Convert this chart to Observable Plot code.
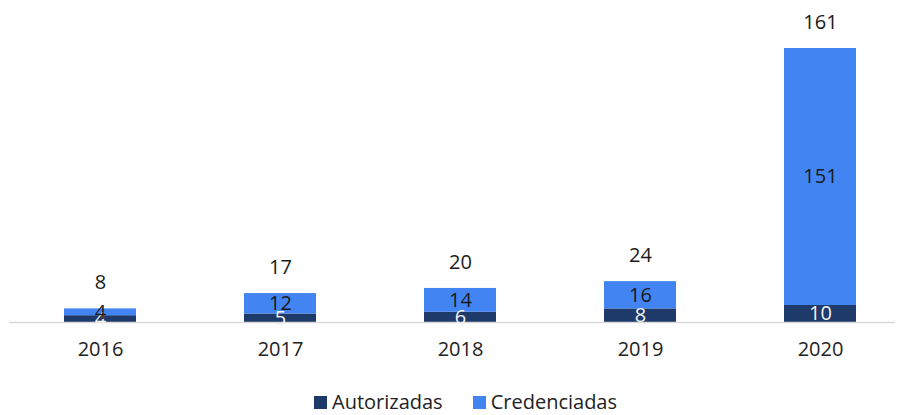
<!DOCTYPE html>
<html>
<head>
<meta charset="utf-8">
<script src="https://cdn.jsdelivr.net/npm/d3@7"></script>
<script src="https://cdn.jsdelivr.net/npm/@observablehq/plot@0.6"></script>
<style>
  body { margin: 0; background: #fff; font-family: "Open Sans", "Noto Sans", sans-serif; }
  #chart svg { display: block; }
  .legend { display: flex; justify-content: center; gap: 30px; font-size: 20px; color: #222; margin-left: 34px; margin-top: 6px; line-height: 22px; }
  .legend span { display: inline-flex; align-items: center; }
  .legend i { display: inline-block; width: 13px; height: 13px; margin-right: 5px; }
</style>
</head>
<body>
<div id="chart"></div>
<div class="legend" id="legend"></div>
<script>
const years = ["2016", "2017", "2018", "2019", "2020"];
const autorizadas = [4, 5, 6, 8, 10];
const credenciadas = [4, 12, 14, 16, 151];
const totals = [8, 17, 20, 24, 161];

const seriesNames = ["Autorizadas", "Credenciadas"];
const seriesColors = ["#1d3a6b", "#4384f3"];

const rows = [];
years.forEach((y, i) => {
  rows.push({year: y, serie: seriesNames[0], value: autorizadas[i]});
  rows.push({year: y, serie: seriesNames[1], value: credenciadas[i]});
});
const darkLabels = years.map((y, i) => ({year: y, v: autorizadas[i], mid: autorizadas[i] / 2}));
const blueLabels = years.map((y, i) => ({year: y, v: credenciadas[i], mid: autorizadas[i] + credenciadas[i] / 2}));
const totalLabels = years.map((y, i) => ({year: y, v: totals[i]}));

const font = "Open Sans, Noto Sans, sans-serif";

const chart = Plot.plot({
  width: 897,
  height: 385,
  marginTop: 48,
  marginBottom: 63,
  marginLeft: 9,
  marginRight: 2,
  style: {fontFamily: font, fontSize: "20px", color: "#222", background: "#fff"},
  x: {domain: years, range: [8.6, 911.6], paddingInner: 0.6, paddingOuter: 0.3, label: null, tickSize: 0, tickPadding: 19},
  y: {domain: [0, 161], axis: null},
  color: {domain: seriesNames, range: seriesColors},
  marks: [
    Plot.barY(rows, {x: "year", y: "value", fill: "serie", order: seriesNames}),
    Plot.ruleY([0], {stroke: "#d9d9d9", strokeWidth: 1.5}),
    Plot.text(darkLabels, {x: "year", y: "mid", text: d => String(d.v), fill: "#f2f2f2", fontSize: 20}),
    Plot.text(blueLabels, {x: "year", y: "mid", text: d => String(d.v), fill: "#1a1a1a", fontSize: 20}),
    Plot.text(totalLabels, {x: "year", y: "v", text: d => String(d.v), dy: -26, fill: "#1a1a1a", fontSize: 20})
  ]
});
document.getElementById("chart").appendChild(chart);

const legend = document.getElementById("legend");
seriesNames.forEach((n, i) => {
  const s = document.createElement("span");
  const sw = document.createElement("i");
  sw.style.background = seriesColors[i];
  s.appendChild(sw);
  s.appendChild(document.createTextNode(n));
  legend.appendChild(s);
});
</script>
</body>
</html>
